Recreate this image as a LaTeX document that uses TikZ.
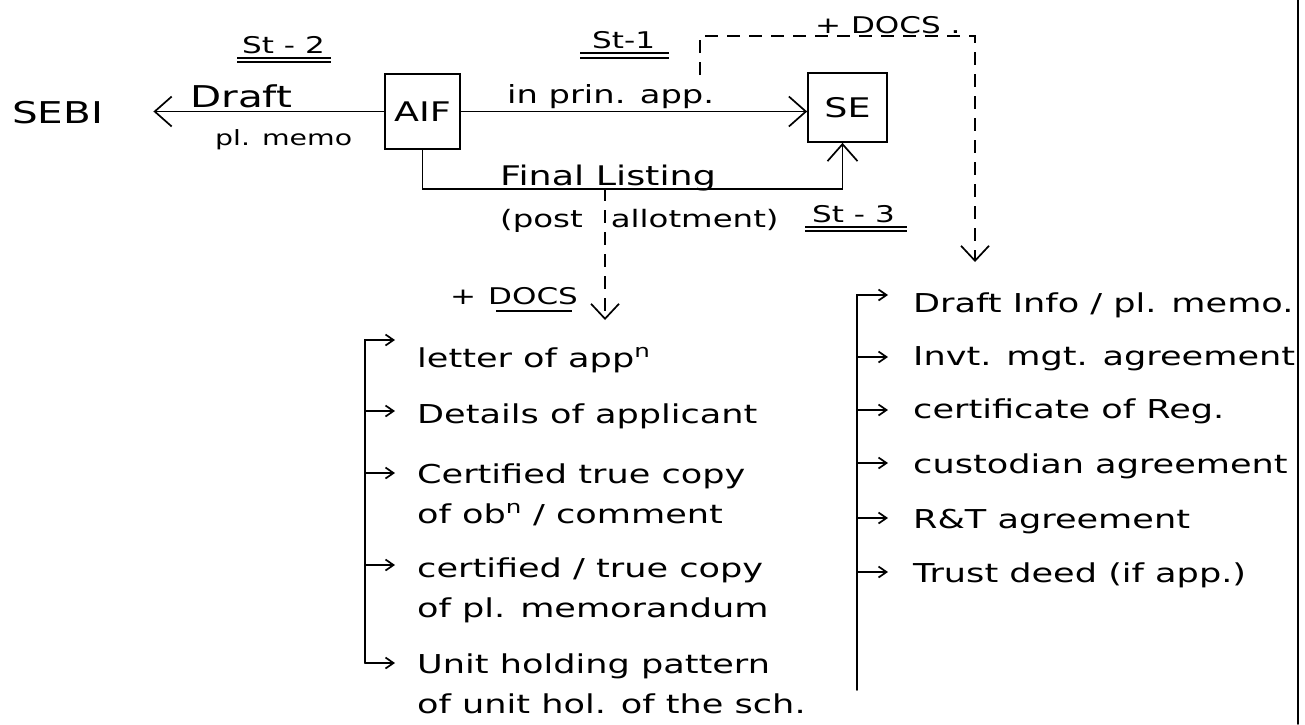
\documentclass[tikz,border=0pt]{standalone}
\usepackage{fontspec}
\setmainfont{DejaVu Sans}[FakeStretch=1.35]
\usetikzlibrary{arrows.meta,calc}
\begin{document}
\begin{tikzpicture}[x=1pt,y=-1pt,
  hw/.style={inner sep=0pt, anchor=base west},
  fl/.style={font=\fontsize{26}{40}\selectfont},
  fst/.style={font=\fontsize{23}{28}\selectfont},
  ln/.style={line width=1.7pt, line cap=round},
  ul/.style={line width=1.4pt},
  box/.style={draw, line width=1.7pt, inner sep=0pt, font=\fontsize{27}{32}\selectfont},
  arr/.style={-{Straight Barb[length=17pt,width=30pt]}},
  dtip/.style={-{Straight Barb[length=15pt,width=28pt]}},
  sarr/.style={-{Straight Barb[length=8pt,width=11pt]}},
  dsh/.style={line width=1.7pt, dash pattern=on 13pt off 9pt}
]
\fill[white] (0,0) rectangle (1305,724);
\useasboundingbox (0,0) rectangle (1305,724);

% main nodes
\node[hw,font=\fontsize{30}{36}\selectfont] (sebi) at (12,123) {SEBI};
\node[box,minimum width=75pt,minimum height=75pt] (aif) at (422.5,111.5) {AIF};
\node[box,minimum width=79pt,minimum height=69pt] (se) at (847.5,107.5) {SE};

% stage labels
\node[hw,fst] (st2) at (242,53) {St - 2};
\draw[ul] ($(st2.base west)+(-5,5)$) -- ($(st2.base east)+(6,5)$);
\draw[ul] ($(st2.base west)+(-5,9)$) -- ($(st2.base east)+(6,9)$);
\node[hw,fst] (st1) at (592,48) {St-1};
\draw[ul] ($(st1.base west)+(-12,5)$) -- ($(st1.base east)+(14,5)$);
\draw[ul] ($(st1.base west)+(-12,10)$) -- ($(st1.base east)+(14,10)$);
\node[hw,fst] (st3) at (812,222) {St - 3};
\draw[ul] ($(st3.base west)+(-7,5)$) -- ($(st3.base east)+(12,5)$);
\draw[ul] ($(st3.base west)+(-7,9)$) -- ($(st3.base east)+(12,9)$);

% AIF -> SEBI
\draw[ln,arr,shorten >=50pt] (aif.west) -- (aif.west -| sebi.east);
\node[hw,font=\fontsize{30}{36}\selectfont] (draft) at (190,107) {Draft};
\node[hw,font=\fontsize{21}{26}\selectfont] (plmemo) at (215,145) {pl. memo};

% AIF -> SE in principle
\draw[ln,arr] (aif.east) -- (aif.east -| se.west);
\node[hw,font=\fontsize{25}{30}\selectfont] (inprin) at (507,103) {in prin. app.};

% AIF -> SE final listing
\draw[ln,arr] (aif.south) |- ($(se.south)+(-5,46)$) -- ($(se.south)+(-5,0)$);
\node[hw,font=\fontsize{27}{32}\selectfont] (final) at (500,185) {Final Listing};
\node[hw,font=\fontsize{24}{30}\selectfont] (post) at (500,227) {(post\hspace{28pt}allotment)};

% top dashed docs arrow
\coordinate (ds) at (700,75);
\coordinate (de) at (975,262);
\draw[dsh,dtip] (ds) |- ($(de)+(0,-226)$) -- (de);
\node[hw,fst] (tdocs) at (815,33) {+ DOCS .};

% lower dashed docs arrow
\coordinate (flx) at (605,188);
\coordinate (ldt) at (605,320);
\draw[dsh,dtip] (flx) -- (ldt);
\node[hw,fst] (ldocs) at (450,304) {+\hspace{12pt}DOCS};
\draw[ul] ($(ldocs.base east)+(-82,7)$) -- ($(ldocs.base east)+(-6,7)$);

% left list
\node[hw,fl] (l1) at (417,367) {letter of app\textsuperscript{n}};
\node[hw,fl] (l2) at (417,423) {Details of applicant};
\node[hw,fl] (l3) at (417,483) {\begin{tabular}[t]{@{}l@{}}Certified true copy\\of ob\textsuperscript{n} / comment\end{tabular}};
\node[hw,fl] (l4) at (417,577) {\begin{tabular}[t]{@{}l@{}}certified / true copy\\of pl. memorandum\end{tabular}};
\node[hw,fl] (l5) at (417,673) {\begin{tabular}[t]{@{}l@{}}Unit holding pattern\\of unit hol. of the sch.\end{tabular}};
\draw[ln,sarr] ($(l5.base west)+(-52,-10)$) -- ($(l1.base west)+(-52,-27)$) -- ($(l1.base west)+(-22,-27)$);
\draw[ln,sarr] ($(l5.base west)+(-52,-10)$) -- ($(l5.base west)+(-22,-10)$);
\foreach \nm/\dy in {l2/12, l3/10, l4/12}
  \draw[ln,sarr] ($(\nm.base west)+(-52,-\dy)$) -- ($(\nm.base west)+(-22,-\dy)$);

% right list
\node[hw,fl] (r1) at (913,312) {Draft Info / pl. memo.};
\node[hw,fl] (r2) at (913,365) {Invt. mgt. agreement};
\node[hw,fl] (r3) at (913,418) {certificate of Reg.};
\node[hw,fl] (r4) at (913,473) {custodian agreement};
\node[hw,fl] (r5) at (913,528) {R\&T agreement};
\node[hw,fl] (r6) at (913,582) {Trust deed (if app.)};
\draw[ln,sarr] ($(r6.base west)+(-56,108)$) -- ($(r1.base west)+(-56,-17)$) -- ($(r1.base west)+(-25,-17)$);
\foreach \nm/\dy in {r2/8, r3/8, r4/10, r5/10, r6/10}
  \draw[ln,sarr] ($(\nm.base west)+(-56,-\dy)$) -- ($(\nm.base west)+(-25,-\dy)$);

% page margin line
\draw[ln] (1298,0) -- (1298,724);
\end{tikzpicture}
\end{document}
